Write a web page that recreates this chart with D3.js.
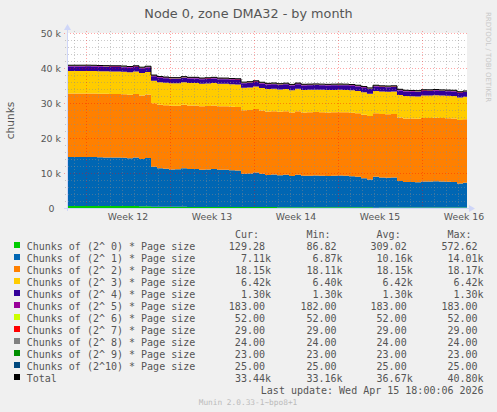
<!DOCTYPE html>
<html>
<head>
<meta charset="utf-8">
<script src="https://cdn.jsdelivr.net/npm/d3@7"></script>
<style>
    body { margin: 0; background: #f0f0f0; }
    svg { display: block; }
</style>
</head>
<body>
<div id="chart"></div>
<script>
const startTime = new Date(Date.UTC(2026, 2, 14, 10))
const endTime = new Date(Date.UTC(2026, 3, 16, 18))
const readingHours = 12

const order0 = [560, 565, 572.62, 570, 555, 548, 560, 552, 545, 550, 540, 548, 535, 530,
    360, 350, 345, 330, 338, 325, 320, 318, 305, 300, 310, 296, 290, 285, 280, 276,
    270, 268, 262, 258, 255, 250, 248, 244, 240, 236, 232, 228, 226, 220, 216, 210,
    205, 200, 196, 190, 180, 86.82, 170, 176, 172, 168, 160, 155, 150, 148, 145, 140,
    138, 135, 132, 130, 129.28]
const order1 = [14000, 14000, 14000, 14010, 14010, 13950, 13900, 13860, 13860, 13800, 13670, 13860, 13480, 13760,
    11400, 11000, 10850, 10700, 10700, 11000, 10810, 10810, 10620, 10700, 10810, 10620, 10620, 10500, 10430,
    9480, 9600, 9860, 9500, 9200, 9290, 9100, 9250, 8900, 9290, 8950, 9000, 9050, 9000, 8950, 9000, 9050,
    9000, 8900, 8700, 8330, 7950, 8810, 8550, 8500, 8550,
    7570, 7300, 7250, 7200, 7450, 7400, 7500, 7400, 7350, 7300, 6870, 7110]

// the remaining series barely move: one reading per week span
const weekSpans = ["2026-03-14", "2026-03-16", "2026-03-23", "2026-03-30", "2026-04-06", "2026-04-13"]
const order2 = [18170, 18160, 18150, 18120, 18140, 18150]
const order3 = [6420, 6420, 6420, 6410, 6400, 6420]
const order4 = [1300, 1300, 1300, 1300, 1300, 1300]
const order5 = [183, 183, 183, 182, 183, 183]
const order6 = [52, 52, 52, 52, 52, 52]
const order7 = [29, 29, 29, 29, 29, 29]
const order8 = [24, 24, 24, 24, 24, 24]
const order9 = [23, 23, 23, 23, 23, 23]
const order10 = [25, 25, 25, 25, 25, 25]

const keys = ["o0", "o1", "o2", "o3", "o4", "o5", "o6", "o7", "o8", "o9", "o10"]
const colors = ["#00cc00", "#0066b3", "#ff8000", "#ffcc00", "#330099", "#990099",
    "#ccff00", "#ff0000", "#808080", "#008f00", "#00487d", "#000000"]
const legendLabels = [
    "Chunks of (2^ 0) * Page size", "Chunks of (2^ 1) * Page size", "Chunks of (2^ 2) * Page size",
    "Chunks of (2^ 3) * Page size", "Chunks of (2^ 4) * Page size", "Chunks of (2^ 5) * Page size",
    "Chunks of (2^ 6) * Page size", "Chunks of (2^ 7) * Page size", "Chunks of (2^ 8) * Page size",
    "Chunks of (2^ 9) * Page size", "Chunks of (2^10) * Page size", "Total"]
const curText = ["129.28", "7.11k", "18.15k", "6.42k", "1.30k", "183.00", "52.00", "29.00", "24.00", "23.00", "25.00", "33.44k"]
const minText = ["86.82", "6.87k", "18.11k", "6.40k", "1.30k", "182.00", "52.00", "29.00", "24.00", "23.00", "25.00", "33.16k"]
const avgText = ["309.02", "10.16k", "18.15k", "6.42k", "1.30k", "183.00", "52.00", "29.00", "24.00", "23.00", "25.00", "36.67k"]
const maxText = ["572.62", "14.01k", "18.17k", "6.42k", "1.30k", "183.00", "52.00", "29.00", "24.00", "23.00", "25.00", "40.80k"]
const yTicks = [0, 10000, 20000, 30000, 40000, 50000]

const width = 497
const height = 412
const margins = {top: 33, right: 30, bottom: 204, left: 67}
const plotRight = width - margins.right
const plotBottom = height - margins.bottom

const textColor = "#555555"
const axisColor = "#cfd6f8"
const gridColor = "rgba(140, 140, 140, 0.45)"
const mgridColor = "rgba(255, 0, 0, 0.35)"

const svg = d3.select("#chart")
    .append("svg")
    .attr("width", width)
    .attr("height", height)
    .style("font-family", "'DejaVu Sans', sans-serif")

svg.append("rect").attr("width", width).attr("height", height).attr("fill", "#f0f0f0")

const x = d3.scaleUtc().domain([startTime, endTime]).range([margins.left, plotRight])
const y = d3.scaleLinear().domain([0, 50000]).range([plotBottom, margins.top])

// build the stack rows
const spanDates = weekSpans.map(d => new Date(d + "T00:00:00Z"))
const weekly = {o2: order2, o3: order3, o4: order4, o5: order5, o6: order6, o7: order7, o8: order8, o9: order9, o10: order10}
const rows = order1.map((v, i) => {
    let time = d3.utcHour.offset(startTime, i * readingHours)
    let span = d3.bisectRight(spanDates, time) - 1
    let row = {time: time, o0: order0[i], o1: v}
    for (let k in weekly) row[k] = weekly[k][span]
    return row
})
rows.push(Object.assign({}, rows[rows.length - 1], {time: endTime}))
rows.forEach(r => { r.total = d3.sum(keys, k => r[k]) })

svg.append("rect")
    .attr("x", margins.left)
    .attr("y", margins.top)
    .attr("width", plotRight - margins.left)
    .attr("height", plotBottom - margins.top)
    .attr("fill", "#ffffff")

const stacked = d3.stack().keys(keys)(rows)
const area = d3.area()
    .curve(d3.curveStepAfter)
    .x(d => x(d.data.time))
    .y0(d => y(d[0]))
    .y1(d => y(d[1]))

svg.append("g")
    .selectAll("path")
    .data(stacked)
    .enter()
    .append("path")
    .attr("d", area)
    .attr("fill", (d, i) => colors[i])

// grid on top of the areas, like rrdtool
const grid = svg.append("g").attr("shape-rendering", "crispEdges")
const minorY = d3.range(0, 50001, 2000).filter(v => v % 10000 != 0)
const days = d3.utcDay.range(startTime, endTime)
const mondays = d3.utcMonday.range(startTime, endTime)
const minorDays = days.filter(d => d.getUTCDay() != 1)

grid.selectAll(".minor-y")
    .data(minorY)
    .enter()
    .append("line")
    .attr("x1", margins.left - 2)
    .attr("x2", plotRight)
    .attr("y1", d => Math.round(y(d)) + 0.5)
    .attr("y2", d => Math.round(y(d)) + 0.5)
    .attr("stroke", gridColor)
    .attr("stroke-dasharray", "1,2")
grid.selectAll(".major-y")
    .data(yTicks)
    .enter()
    .append("line")
    .attr("x1", margins.left - 3)
    .attr("x2", plotRight)
    .attr("y1", d => Math.round(y(d)) + 0.5)
    .attr("y2", d => Math.round(y(d)) + 0.5)
    .attr("stroke", mgridColor)
    .attr("stroke-dasharray", "1,2")
grid.selectAll(".minor-x")
    .data(minorDays)
    .enter()
    .append("line")
    .attr("x1", d => Math.round(x(d)) + 0.5)
    .attr("x2", d => Math.round(x(d)) + 0.5)
    .attr("y1", margins.top - 2)
    .attr("y2", plotBottom + 2)
    .attr("stroke", gridColor)
    .attr("stroke-dasharray", "1,2")
grid.selectAll(".major-x")
    .data(mondays)
    .enter()
    .append("line")
    .attr("x1", d => Math.round(x(d)) + 0.5)
    .attr("x2", d => Math.round(x(d)) + 0.5)
    .attr("y1", margins.top - 2)
    .attr("y2", plotBottom + 3)
    .attr("stroke", mgridColor)
    .attr("stroke-dasharray", "1,2")

// total line
svg.append("path")
    .datum(rows)
    .attr("d", d3.line().curve(d3.curveStepAfter).x(d => x(d.time)).y(d => y(d.total)))
    .attr("fill", "none")
    .attr("stroke", colors[11])
    .attr("stroke-width", 1)

// axes
const axisY = Math.round(y(0)) + 0.5
svg.append("line")
    .attr("x1", margins.left - 3).attr("x2", plotRight + 2)
    .attr("y1", axisY).attr("y2", axisY)
    .attr("stroke", axisColor)
    .attr("shape-rendering", "crispEdges")
svg.append("line")
    .attr("x1", margins.left + 0.5).attr("x2", margins.left + 0.5)
    .attr("y1", plotBottom + 3).attr("y2", margins.top - 4)
    .attr("stroke", axisColor)
    .attr("shape-rendering", "crispEdges")
svg.append("path")
    .attr("d", `M${plotRight + 8},${axisY} L${plotRight + 2},${axisY - 3.5} L${plotRight + 2},${axisY + 3.5} Z`)
    .attr("fill", axisColor)
svg.append("path")
    .attr("d", `M${margins.left + 0.5},${margins.top - 9} L${margins.left - 3},${margins.top - 3} L${margins.left + 4},${margins.top - 3} Z`)
    .attr("fill", axisColor)

// y labels
svg.selectAll(".y-label")
    .data(yTicks)
    .enter()
    .append("text")
    .text(d => d == 0 ? "0" : `${d / 1000} k`)
    .attr("x", d => d == 0 ? 54.5 : 61)
    .attr("y", d => y(d) + 3.6)
    .attr("text-anchor", "end")
    .style("font-size", "9.4px")
    .style("fill", textColor)

// week labels in the middle of each week
const weekLabels = d3.utcMonday.range(d3.utcMonday.offset(startTime, -1), endTime)
    .map(d => ({date: d, mid: d3.utcHour.offset(d, 84)}))
    .filter(d => d.mid > startTime && d.mid < endTime)
svg.selectAll(".x-label")
    .data(weekLabels)
    .enter()
    .append("text")
    .text(d => `Week ${d3.utcFormat("%V")(d.date)}`)
    .attr("x", d => x(d.mid))
    .attr("y", 220)
    .attr("text-anchor", "middle")
    .style("font-size", "9.3px")
    .style("fill", textColor)

svg.append("text")
    .text("Node 0, zone DMA32 - by month")
    .attr("x", 248.5)
    .attr("y", 18)
    .attr("text-anchor", "middle")
    .style("font-size", "12.8px")
    .style("fill", textColor)
svg.append("text")
    .text("chunks")
    .attr("transform", `translate(14, ${(margins.top + plotBottom) / 2}) rotate(-90)`)
    .attr("text-anchor", "middle")
    .style("font-size", "10.6px")
    .style("fill", textColor)
svg.append("text")
    .text("RRDTOOL / TOBI OETIKER")
    .attr("transform", "translate(486, 57) rotate(90)")
    .attr("text-anchor", "middle")
    .style("font-size", "7px")
    .style("fill", "#c8c8c8")

// legend
const mono = "'DejaVu Sans Mono', monospace"
const cw = 6.02
const colEnds = [271, 342.6, 412.7, 483.6]
const colTexts = [curText, minText, avgText, maxText]
const headers = ["Cur:", "Min:", "Avg:", "Max:"]
const legend = svg.append("g").style("font-family", mono).style("font-size", "10px")
const rowBase = 249.5
const rowStep = 12

headers.forEach((h, c) => {
    legend.append("text")
        .text(h)
        .attr("x", colEnds[c] - 6 * cw)
        .attr("y", rowBase - rowStep)
        .style("fill", textColor)
})
legendLabels.forEach((label, i) => {
    let by = rowBase + i * rowStep
    legend.append("rect")
        .attr("x", 14).attr("y", by - 7.5)
        .attr("width", 6).attr("height", 6)
        .attr("fill", colors[i])
    legend.append("text")
        .text(label)
        .attr("x", 26.7)
        .attr("y", by)
        .style("fill", textColor)
    colTexts.forEach((col, c) => {
        let t = col[i]
        legend.append("text")
            .text(t)
            .attr("x", t.endsWith("k") ? colEnds[c] : colEnds[c] - cw)
            .attr("y", by)
            .attr("text-anchor", "end")
            .style("fill", textColor)
    })
})
legend.append("text")
    .text("Last update: Wed Apr 15 18:00:06 2026")
    .attr("x", 483.6)
    .attr("y", rowBase + legendLabels.length * rowStep)
    .attr("text-anchor", "end")
    .style("fill", textColor)
svg.append("text")
    .text("Munin 2.0.33-1~bpo8+1")
    .attr("x", 248)
    .attr("y", 404.5)
    .attr("text-anchor", "middle")
    .style("font-family", mono)
    .style("font-size", "7.8px")
    .style("fill", "#bbbbbb")
</script>
</body>
</html>
